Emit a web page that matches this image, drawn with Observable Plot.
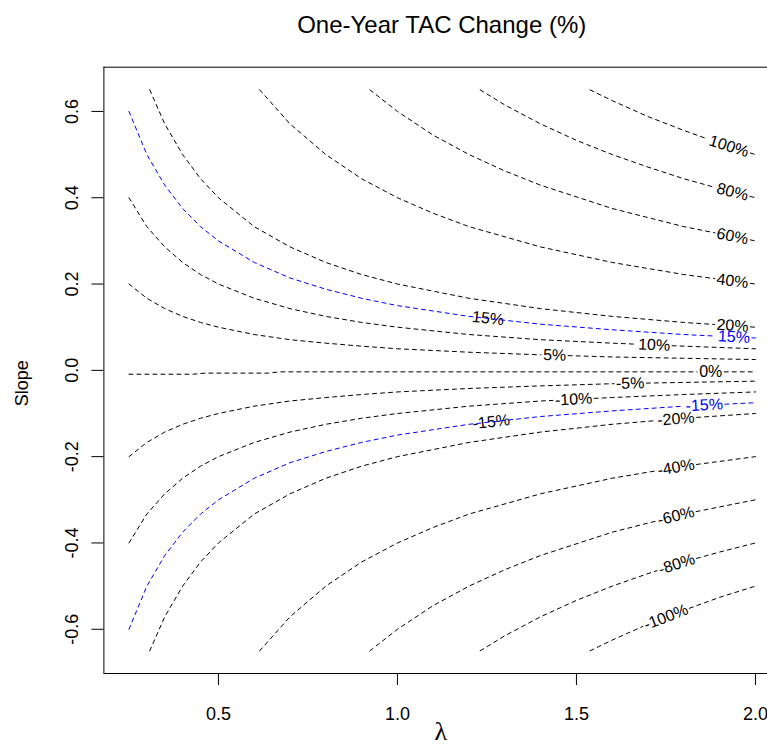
<!DOCTYPE html>
<html>
<head>
<meta charset="utf-8">
<script src="https://cdn.jsdelivr.net/npm/d3@7"></script>
<script src="https://cdn.jsdelivr.net/npm/@observablehq/plot@0.6"></script>
<style>
html, body { margin: 0; padding: 0; background: #fff; overflow: hidden; }
#chart svg { overflow: hidden !important; display: block; }
</style>
</head>
<body>
<div id="chart"></div>
<script>
// ---------------- DATA ----------------
const title = "One-Year TAC Change (%)";
const xLabel = "λ";
const yLabel = "Slope";
const xTicks = [0.5, 1.0, 1.5, 2.0];
const yTicks = [-0.6, -0.4, -0.2, 0.0, 0.2, 0.4, 0.6];

// contour lines: [lambda, slope] pairs
const c100 = [[1.538,0.650],[1.60,0.625],[1.70,0.588],[1.80,0.556],[1.90,0.526],[2.00,0.500]];
const c80  = [[1.231,0.650],[1.30,0.615],[1.40,0.571],[1.50,0.533],[1.60,0.500],[1.70,0.471],[1.80,0.444],[1.90,0.421],[2.00,0.400]];
const c60  = [[0.923,0.650],[1.00,0.600],[1.10,0.545],[1.20,0.500],[1.30,0.462],[1.40,0.429],[1.60,0.375],[1.80,0.333],[2.00,0.300]];
const c40  = [[0.615,0.650],[0.70,0.571],[0.80,0.500],[0.90,0.444],[1.00,0.400],[1.10,0.364],[1.20,0.333],[1.40,0.286],[1.60,0.250],[1.80,0.222],[2.00,0.200]];
const c20  = [[0.308,0.650],[0.35,0.571],[0.40,0.500],[0.45,0.444],[0.50,0.400],[0.60,0.333],[0.70,0.286],[0.80,0.250],[0.90,0.222],[1.00,0.200],[1.20,0.167],[1.40,0.143],[1.60,0.125],[1.80,0.111],[2.00,0.100]];
const c15  = [[0.25,0.600],[0.30,0.500],[0.35,0.429],[0.40,0.375],[0.45,0.333],[0.50,0.300],[0.60,0.250],[0.70,0.214],[0.80,0.188],[0.90,0.167],[1.00,0.150],[1.20,0.125],[1.40,0.107],[1.60,0.094],[1.80,0.083],[2.00,0.075]];
const c10  = [[0.25,0.400],[0.30,0.333],[0.35,0.286],[0.40,0.250],[0.45,0.222],[0.50,0.200],[0.60,0.167],[0.70,0.143],[0.80,0.125],[0.90,0.111],[1.00,0.100],[1.20,0.083],[1.40,0.071],[1.60,0.063],[1.80,0.056],[2.00,0.050]];
const c5   = [[0.25,0.200],[0.30,0.167],[0.35,0.143],[0.40,0.125],[0.45,0.111],[0.50,0.100],[0.60,0.083],[0.70,0.071],[0.80,0.063],[0.90,0.056],[1.00,0.050],[1.20,0.042],[1.40,0.036],[1.60,0.031],[1.80,0.028],[2.00,0.025]];
const c0   = [[0.25,-0.009],[0.43,-0.009],[0.46,-0.0065],[0.64,-0.0065],[0.67,-0.0035],[2.00,-0.0035]];
const cm5  = [[0.25,-0.200],[0.30,-0.167],[0.35,-0.143],[0.40,-0.125],[0.45,-0.111],[0.50,-0.100],[0.60,-0.083],[0.70,-0.071],[0.80,-0.063],[0.90,-0.056],[1.00,-0.050],[1.20,-0.042],[1.40,-0.036],[1.60,-0.031],[1.80,-0.028],[2.00,-0.025]];
const cm10 = [[0.25,-0.400],[0.30,-0.333],[0.35,-0.286],[0.40,-0.250],[0.45,-0.222],[0.50,-0.200],[0.60,-0.167],[0.70,-0.143],[0.80,-0.125],[0.90,-0.111],[1.00,-0.100],[1.20,-0.083],[1.40,-0.071],[1.60,-0.063],[1.80,-0.056],[2.00,-0.050]];
const cm15 = [[0.25,-0.600],[0.30,-0.500],[0.35,-0.429],[0.40,-0.375],[0.45,-0.333],[0.50,-0.300],[0.60,-0.250],[0.70,-0.214],[0.80,-0.188],[0.90,-0.167],[1.00,-0.150],[1.20,-0.125],[1.40,-0.107],[1.60,-0.094],[1.80,-0.083],[2.00,-0.075]];
const cm20 = [[0.308,-0.650],[0.35,-0.571],[0.40,-0.500],[0.45,-0.444],[0.50,-0.400],[0.60,-0.333],[0.70,-0.286],[0.80,-0.250],[0.90,-0.222],[1.00,-0.200],[1.20,-0.167],[1.40,-0.143],[1.60,-0.125],[1.80,-0.111],[2.00,-0.100]];
const cm40 = [[0.615,-0.650],[0.70,-0.571],[0.80,-0.500],[0.90,-0.444],[1.00,-0.400],[1.10,-0.364],[1.20,-0.333],[1.40,-0.286],[1.60,-0.250],[1.80,-0.222],[2.00,-0.200]];
const cm60 = [[0.923,-0.650],[1.00,-0.600],[1.10,-0.545],[1.20,-0.500],[1.30,-0.462],[1.40,-0.429],[1.60,-0.375],[1.80,-0.333],[2.00,-0.300]];
const cm80 = [[1.231,-0.650],[1.30,-0.615],[1.40,-0.571],[1.50,-0.533],[1.60,-0.500],[1.70,-0.471],[1.80,-0.444],[1.90,-0.421],[2.00,-0.400]];
const cm100= [[1.538,-0.650],[1.60,-0.625],[1.70,-0.588],[1.80,-0.556],[1.90,-0.526],[2.00,-0.500]];

const levels = [100, 80, 60, 40, 20, 15, 10, 5, 0, -5, -10, -15, -20, -40, -60, -80, -100];
const contourPts = [c100, c80, c60, c40, c20, c15, c10, c5, c0, cm5, cm10, cm15, cm20, cm40, cm60, cm80, cm100];
const highlightLevels = [15, -15];

// label placements (level, lambda)
const blackLabelLevels  = [100, 80, 60, 40, 20, 15, 10, 5, 0, -5, -10, -15, -20, -40, -60, -80, -100];
const blackLabelLambdas = [1.926, 1.936, 1.936, 1.936, 1.936, 1.253, 1.717, 1.439, 1.875, 1.65, 1.492, 1.262, 1.778, 1.778, 1.778, 1.78, 1.75];
const blueLabelLevels   = [15, -15];
const blueLabelLambdas  = [1.94, 1.857];

// ---------------- LAYOUT ----------------
const W = 767, H = 748;
const xDomain = [0.18, 2.07], yDomain = [-0.7025, 0.7025];
const xRange = [103.4, 780], yRange = [673, 66.7];
const kx = (xRange[1] - xRange[0]) / (xDomain[1] - xDomain[0]);
const ky = (yRange[0] - yRange[1]) / (yDomain[1] - yDomain[0]);
const px = l => xRange[0] + (l - xDomain[0]) * kx;
const py = s => yRange[0] - (s - yDomain[0]) * ky;
const ilx = x => xDomain[0] + (x - xRange[0]) / kx;
const ily = y => yDomain[0] + (yRange[0] - y) / ky;
const FONT = "'Liberation Sans', Arial, Helvetica, sans-serif";
const labelFS = 16;
const dash = "4,4";

const ctx = document.createElement("canvas").getContext("2d");
ctx.font = `${labelFS}px 'Liberation Sans'`;
const measure = t => ctx.measureText(t).width;
const fmtLevel = v => `${v}%`;

// split a contour polyline (in pixel space) leaving a gap where each label sits
function build(pts, labs, pad) {
  const P = pts.map(([l, s]) => [px(l), py(s)]);
  const cum = [0];
  for (let i = 1; i < P.length; i++) cum.push(cum[i-1] + Math.hypot(P[i][0]-P[i-1][0], P[i][1]-P[i-1][1]));
  const total = cum[cum.length-1];
  const gaps = [], outLabels = [];
  for (const lab of labs) {
    const X = px(lab.lambda);
    let i = 1; while (i < P.length - 1 && P[i][0] < X) i++;
    const a = P[i-1], b = P[i];
    const t = Math.max(0, Math.min(1, (X - a[0]) / (b[0] - a[0])));
    const s0 = cum[i-1] + t * (cum[i] - cum[i-1]);
    const Y = a[1] + t * (b[1] - a[1]);
    const ang = Math.atan2(b[1] - a[1], b[0] - a[0]) * 180 / Math.PI;
    const w = measure(lab.text);
    gaps.push([s0 - w/2 - pad, s0 + w/2 + pad]);
    outLabels.push({lambda: ilx(a[0] + t*(b[0]-a[0])), slope: ily(Y), text: lab.text, angle: ang});
  }
  const pointAt = s => {
    let j = 1; while (j < cum.length - 1 && cum[j] < s) j++;
    const seg = cum[j] - cum[j-1];
    const t = seg > 0 ? (s - cum[j-1]) / seg : 0;
    return [P[j-1][0] + t*(P[j][0]-P[j-1][0]), P[j-1][1] + t*(P[j][1]-P[j-1][1])];
  };
  const inGap = s => gaps.some(([g0, g1]) => s > g0 && s < g1);
  const bps = [...cum, ...gaps.flat().filter(s => s > 0 && s < total)].sort((a, b) => a - b);
  const segs = []; let cur = null;
  for (let k = 0; k < bps.length - 1; k++) {
    const s1 = bps[k], s2 = bps[k+1];
    if (s2 - s1 < 1e-9) continue;
    if (inGap((s1 + s2) / 2)) { if (cur) { segs.push(cur); cur = null; } continue; }
    if (!cur) cur = [pointAt(s1)];
    cur.push(pointAt(s2));
  }
  if (cur) segs.push(cur);
  return {segs, labels: outLabels};
}

const blackLines = [], blackLabels = [], blueLines = [], blueLabels = [];
levels.forEach((lev, i) => {
  const labs = [];
  blackLabelLevels.forEach((l, j) => { if (l === lev) labs.push({lambda: blackLabelLambdas[j], text: fmtLevel(l)}); });
  const r = build(contourPts[i], labs, 2);
  blackLabels.push(...r.labels);
  if (highlightLevels.includes(lev)) {
    // the blue line is drawn over the black one of the same level
    const labsB = [];
    blueLabelLevels.forEach((l, j) => { if (l === lev) labsB.push({lambda: blueLabelLambdas[j], text: fmtLevel(l)}); });
    const rb = build(contourPts[i], labsB, 2);
    rb.segs.forEach((seg, k) => seg.forEach(([x, y]) => blueLines.push({lambda: ilx(x), slope: ily(y), id: `b${lev}_${k}`})));
    blueLabels.push(...rb.labels);
  } else {
    r.segs.forEach((seg, k) => seg.forEach(([x, y]) => blackLines.push({lambda: ilx(x), slope: ily(y), id: `${lev}_${k}`})));
  }
});

const chart = Plot.plot({
  width: W, height: H,
  marginLeft: xRange[0], marginRight: 0, marginTop: yRange[1], marginBottom: H - yRange[0],
  x: {domain: xDomain, range: xRange, axis: null},
  y: {domain: yDomain, range: yRange, axis: null},
  style: {fontFamily: FONT, fontSize: "18px", background: "white", color: "black", overflow: "hidden"},
  marks: [
    // box
    Plot.ruleY([yDomain[0], yDomain[1]], {stroke: "black", strokeWidth: 1}),
    Plot.ruleX([xDomain[0]], {stroke: "black", strokeWidth: 1}),
    // ticks
    Plot.axisX({ticks: xTicks, tickSize: 12, tickFormat: () => "", label: null, stroke: "black"}),
    Plot.axisY({ticks: yTicks, tickSize: 12, tickFormat: () => "", label: null, stroke: "black"}),
    // tick labels
    Plot.text(xTicks, {x: d => d, frameAnchor: "bottom", dy: 41.2, text: d => d.toFixed(1), fontSize: 18, fill: "black", lineAnchor: "middle"}),
    Plot.text(yTicks, {y: d => d, frameAnchor: "left", dx: -31.2, rotate: -90, text: d => d.toFixed(1), fontSize: 18, fill: "black", textAnchor: "middle", lineAnchor: "middle"}),
    // axis titles
    Plot.text([yLabel], {frameAnchor: "left", dx: -82, dy: 13, rotate: -90, fontSize: 18, fill: "black", textAnchor: "middle", lineAnchor: "middle"}),
    Plot.text([xLabel], {frameAnchor: "bottom", dx: 5, dy: 58, fontSize: 26, fontFamily: "'Liberation Serif', 'DejaVu Serif', serif", fill: "black", lineAnchor: "middle"}),
    // title
    Plot.text([title], {frameAnchor: "top", dx: 6, dy: -42, fontSize: 24, fill: "black", lineAnchor: "middle"}),
    // contours
    Plot.line(blackLines, {x: "lambda", y: "slope", z: "id", stroke: "black", strokeWidth: 1, strokeDasharray: dash}),
    Plot.text(blackLabels, {x: "lambda", y: "slope", text: "text", rotate: "angle", fill: "black", fontSize: labelFS, textAnchor: "middle", lineAnchor: "middle"}),
    Plot.line(blueLines, {x: "lambda", y: "slope", z: "id", stroke: "#0000ff", strokeWidth: 1, strokeDasharray: dash}),
    Plot.text(blueLabels, {x: "lambda", y: "slope", text: "text", rotate: "angle", fill: "#0000ff", fontSize: labelFS, textAnchor: "middle", lineAnchor: "middle"})
  ]
});
document.getElementById("chart").appendChild(chart);
</script>
</body>
</html>
